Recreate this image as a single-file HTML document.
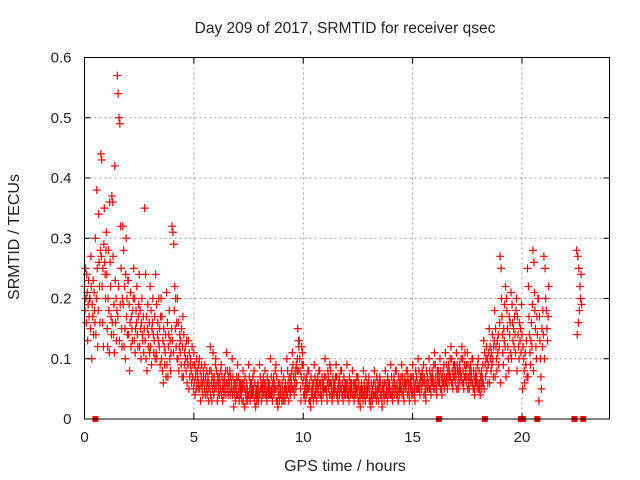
<!DOCTYPE html>
<html><head><meta charset="utf-8"><style>
body{margin:0;background:#fff}
svg{display:block;font-family:"Liberation Sans",sans-serif}
</style></head><body>
<svg id="chart" width="640" height="480" viewBox="0 0 640 480">
<rect width="640" height="480" fill="#fff"/>
<text x="345" y="33" font-size="15.5" text-anchor="middle" fill="#222">Day 209 of 2017, SRMTID for receiver qsec</text>
<text transform="translate(19,237) rotate(-90)" font-size="16" text-anchor="middle" fill="#222">SRMTID / TECUs</text>
<text x="345" y="471" font-size="16" text-anchor="middle" fill="#222">GPS time / hours</text>
<g id="grid"></g>
<g id="marks"></g>
<g id="axes"></g>
</svg>
<script>
const xTicks=[0,5,10,15,20];
const yTicks=[0,0.1,0.2,0.3,0.4,0.5,0.6];
const yTickLabels=["0","0.1","0.2","0.3","0.4","0.5","0.6"];
const flagHours=[0.5,16.2,18.3,19.95,20.05,20.7,22.4,22.8];
const binHours=[0,0.25,0.5,0.75,1,1.25,1.5,1.75,2,2.25,2.5,2.75,3,3.25,3.5,3.75,4,4.25,4.5,4.75,
5,5.25,5.5,5.75,6,6.25,6.5,6.75,7,7.25,7.5,7.75,8,8.25,8.5,8.75,9,9.25,9.5,9.75,
10,10.25,10.5,10.75,11,11.25,11.5,11.75,12,12.25,12.5,12.75,13,13.25,13.5,13.75,14,14.25,14.5,14.75,
15,15.25,15.5,15.75,16,16.25,16.5,16.75,17,17.25,17.5,17.75,18,18.25,18.5,18.75,19,19.25,19.5,19.75,
20,20.25,20.5,20.75,21,22.5];
const binValues=[
[.22,.18,.25,.2,.16,.24,.21,.13,.19,.23,.17,.2],[.2,.15,.27,.22,.1,.19,.17,.23,.14,.21,.18,.16],[.3,.14,.2,.38,.25,.12,.18,.34,.26,.22,.16,.28],
[.44,.27,.43,.22,.16,.25,.12,.29,.35,.26,.24,.2,.28],[.31,.24,.15,.12,.2,.28,.18,.11,.36,.26,.22,.17,.14],[.37,.16,.36,.27,.14,.19,.11,.42,.23,.16,.2,.13,.18],
[.57,.17,.54,.22,.5,.13,.49,.19,.32,.25,.15,.12,.2],[.32,.19,.28,.12,.22,.15,.1,.24,.3,.17,.2,.14,.23],[.23,.14,.19,.08,.16,.21,.12,.17,.15,.13,.18,.2],
[.25,.13,.2,.11,.15,.18,.16,.22,.14,.12,.17,.19],[.24,.12,.18,.15,.1,.16,.2,.14,.13,.17,.11,.15],[.35,.13,.24,.1,.17,.08,.15,.19,.12,.14,.16,.11],
[.22,.12,.18,.09,.15,.16,.2,.14,.11,.13,.17,.1],[.24,.11,.19,.1,.14,.16,.13,.2,.12,.15,.09,.17],[.2,.1,.17,.08,.13,.06,.15,.12,.09,.11,.14,.07],
[.21,.09,.16,.07,.12,.14,.18,.1,.13,.08,.11,.15],[.32,.13,.31,.11,.29,.18,.22,.15,.2,.12,.16,.1],[.2,.1,.16,.08,.12,.14,.11,.13,.09,.15,.07,.12],
[.17,.07,.14,.09,.11,.12,.1,.08,.13,.06,.1,.09],[.13,.05,.11,.07,.09,.1,.08,.06,.12,.07,.09,.05],
[.11,.06,.09,.04,.07,.08,.05,.1,.06,.08,.07,.05,.09,.06],[.1,.05,.08,.03,.06,.07,.09,.05,.06,.04,.08,.07,.06,.05],
[.09,.04,.07,.06,.05,.08,.04,.06,.07,.05,.03,.06,.08,.05],[.12,.04,.08,.06,.03,.07,.05,.11,.06,.04,.07,.05,.06,.09],
[.1,.05,.08,.06,.03,.07,.04,.06,.05,.07,.04,.06,.05,.08],[.09,.04,.07,.05,.03,.06,.05,.04,.07,.06,.05,.08,.04,.06],
[.11,.05,.08,.06,.04,.07,.05,.06,.08,.04,.07,.05,.06,.05],[.1,.04,.07,.05,.02,.06,.04,.05,.06,.03,.05,.07,.04,.06],
[.09,.04,.07,.05,.03,.06,.04,.05,.06,.04,.05,.03,.06,.05],[.08,.03,.06,.05,.02,.07,.04,.05,.03,.06,.04,.05,.03,.04],
[.09,.04,.07,.05,.03,.06,.04,.05,.06,.04,.05,.07,.04,.05],[.08,.03,.06,.04,.02,.05,.04,.03,.05,.04,.06,.03,.05,.04],
[.09,.04,.07,.05,.06,.03,.05,.04,.06,.05,.07,.04,.06,.05],[.08,.04,.06,.05,.04,.03,.07,.05,.06,.04,.05,.06,.04,.05],
[.1,.04,.07,.05,.04,.03,.06,.05,.07,.04,.06,.05,.08,.05],[.09,.03,.07,.05,.03,.02,.06,.04,.05,.03,.06,.04,.05,.04],
[.08,.03,.06,.05,.04,.03,.07,.04,.05,.03,.06,.05,.04,.05],[.1,.04,.08,.06,.05,.03,.07,.05,.06,.04,.07,.05,.06,.08],
[.11,.05,.09,.07,.05,.04,.06,.08,.07,.05,.09,.06,.08,.1],[.15,.08,.13,.12,.13,.1,.08,.05,.03,.07,.12,.09,.11,.06],
[.09,.04,.07,.05,.04,.03,.06,.05,.07,.04,.06,.05,.08,.05],[.08,.03,.06,.05,.03,.02,.07,.04,.05,.06,.04,.05,.03,.06],
[.09,.04,.07,.05,.04,.06,.03,.05,.06,.07,.04,.05,.08,.06],[.08,.04,.06,.05,.04,.03,.07,.06,.05,.04,.06,.05,.07,.05],
[.1,.05,.07,.05,.04,.03,.06,.08,.07,.05,.06,.04,.09,.06],[.08,.04,.06,.05,.03,.04,.07,.05,.06,.04,.05,.06,.05,.07],
[.09,.04,.07,.05,.04,.03,.06,.05,.07,.04,.06,.05,.08,.05],[.08,.04,.06,.04,.03,.05,.07,.05,.04,.06,.05,.04,.06,.05],
[.09,.04,.06,.05,.04,.03,.07,.05,.06,.04,.05,.06,.05,.04],[.08,.04,.06,.05,.03,.04,.06,.05,.04,.06,.05,.07,.04,.05],
[.07,.03,.06,.05,.04,.03,.02,.05,.04,.06,.05,.04,.05,.03],[.08,.04,.06,.05,.04,.03,.07,.05,.04,.06,.05,.04,.05,.06],
[.07,.03,.05,.04,.03,.02,.06,.04,.05,.03,.05,.04,.06,.04],[.08,.04,.06,.05,.04,.03,.07,.05,.04,.06,.05,.03,.05,.06],
[.07,.04,.06,.05,.04,.03,.02,.05,.06,.04,.05,.03,.06,.04],[.08,.04,.06,.05,.04,.03,.07,.05,.06,.04,.05,.06,.05,.04],
[.09,.04,.07,.05,.04,.03,.06,.05,.07,.04,.06,.05,.08,.05],[.08,.04,.06,.05,.04,.03,.07,.05,.06,.04,.05,.06,.07,.05],
[.09,.04,.07,.06,.05,.04,.03,.06,.07,.05,.06,.05,.08,.06],[.08,.04,.07,.06,.05,.04,.03,.06,.07,.05,.06,.04,.07,.05],
[.09,.04,.07,.06,.05,.04,.03,.06,.08,.05,.07,.05,.06,.05],[.1,.05,.08,.06,.05,.04,.07,.06,.07,.05,.08,.06,.07,.06],
[.09,.04,.07,.06,.05,.04,.03,.06,.08,.05,.07,.05,.06,.06],[.1,.05,.08,.07,.05,.04,.06,.07,.08,.06,.07,.05,.09,.06],
[.11,.05,.09,.07,.06,.05,.04,.08,.07,.06,.08,.06,.07,.06],[.1,.05,.08,.07,.05,.04,.06,.07,.08,.06,.09,.05,.07,.06],
[.11,.06,.09,.07,.06,.05,.08,.07,.09,.06,.08,.07,.1,.07],[.12,.06,.1,.08,.06,.05,.07,.09,.08,.07,.09,.06,.08,.07],
[.11,.05,.09,.08,.06,.05,.07,.08,.09,.06,.08,.07,.1,.07],[.12,.06,.1,.08,.06,.05,.07,.09,.11,.07,.08,.06,.09,.07],
[.11,.05,.09,.07,.06,.05,.08,.07,.09,.06,.08,.07,.1,.06],[.1,.05,.08,.07,.05,.04,.06,.07,.08,.06,.07,.05,.09,.06],
[.1,.05,.08,.06,.05,.04,.07,.06,.08,.05,.07,.06,.09,.06],[.13,.05,.11,.09,.07,.1,.12,.08,.1,.06,.09,.11],
[.15,.06,.12,.1,.08,.11,.09,.14,.1,.07,.12,.13],[.18,.07,.15,.12,.1,.08,.13,.11,.14,.09,.12,.16],
[.27,.06,.25,.2,.17,.14,.11,.09,.15,.13,.19,.12],[.22,.07,.2,.18,.15,.12,.1,.08,.17,.14,.16,.11],
[.21,.1,.19,.16,.13,.15,.12,.17,.14,.11,.18],[.2,.08,.17,.14,.12,.1,.16,.13,.15,.11,.19],
[.14,.05,.12,.1,.08,.06,.11,.09,.13,.07],[.25,.07,.22,.17,.14,.11,.09,.13,.16,.12,.19],
[.28,.08,.26,.21,.18,.15,.12,.1,.17,.14,.2],[.2,.03,.17,.13,.1,.07,.05,.15,.12,.18,.14],
[.27,.1,.25,.2,.18,.15,.13,.17,.22],[.28,.14,.27,.16,.25,.18,.22,.2,.24,.19]];
const L=84.5,R=609.5,T=57.5,B=419;
function xs(h){return L+(h/24)*(R-L);}
function ys(v){return B-(v/0.6)*(B-T);}
const NS="http://www.w3.org/2000/svg";
function mk(tag,attrs,parent){const e=document.createElementNS(NS,tag);for(const k in attrs)e.setAttribute(k,attrs[k]);parent.appendChild(e);return e;}
const grid=document.getElementById('grid'),axes=document.getElementById('axes'),marks=document.getElementById('marks');
xTicks.forEach((t,i)=>{
  const x=xs(t);
  if(t>0){const g=mk('line',{x1:x,x2:x,y1:T,y2:B,stroke:'#999','stroke-dasharray':'2,3'},grid);
  
  }
  const tk=mk('path',{d:`M${x},${B}v-6M${x},${T}v6`,stroke:'#000'},axes);
  
  
  const lb=mk('text',{x:x,y:B+23,'font-size':15,'text-anchor':'middle',fill:'#222'},axes);
  lb.textContent=String(t);
  
  
});
yTicks.forEach((t,i)=>{
  const y=ys(t);
  if(t>0&&t<0.6){const g=mk('line',{x1:L,x2:R,y1:y,y2:y,stroke:'#999','stroke-dasharray':'2,3'},grid);
  
  }
  const tk=mk('path',{d:`M${L},${y}h6M${R},${y}h-6`,stroke:'#000'},axes);
  
  
  const lb=mk('text',{x:L-13,y:y+5,'font-size':15,'text-anchor':'end',fill:'#222'},axes);
  lb.textContent=yTickLabels[i];
  
  
});
const frame=mk('rect',{x:L,y:T,width:R-L,height:B-T,fill:'none',stroke:'#000'},axes);


let d='';
binHours.forEach((h,i)=>{
  const vals=binValues[i];
  vals.forEach((v,j)=>{
    const x=xs(h+0.25*j/vals.length),y=ys(v);
    d+=`M${x-4},${y}h8M${x},${y-4}v8`;
  });
});
const pts=mk('path',{d:d,stroke:'#f00','stroke-width':1.2,fill:'none'},marks);


flagHours.forEach(h=>{
  const r=mk('rect',{x:xs(h)-3,y:B-3,width:6,height:6,fill:'#f00'},marks);
  
  
});
</script>
</body></html>
